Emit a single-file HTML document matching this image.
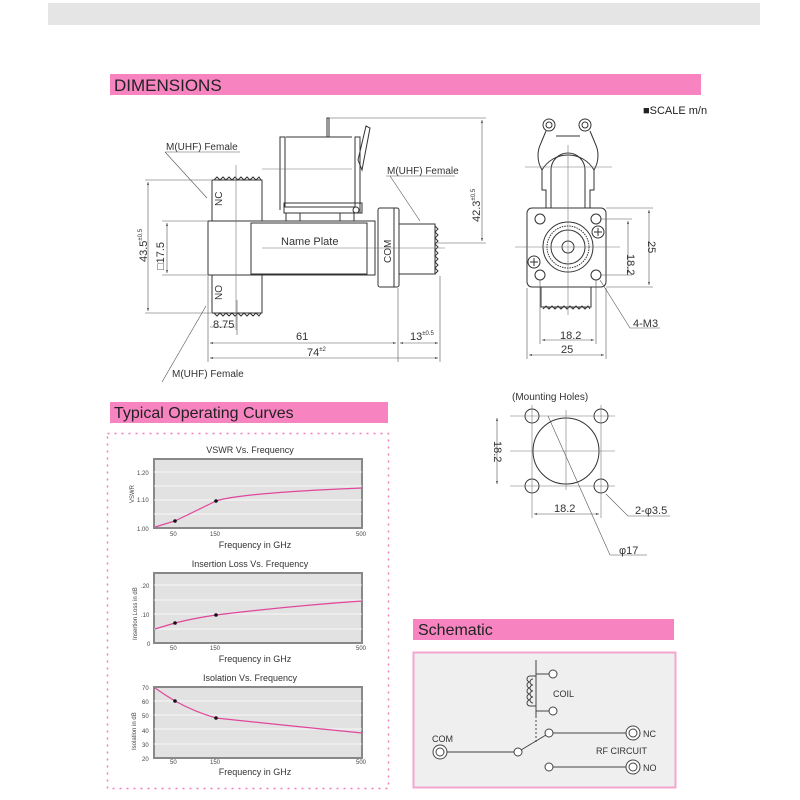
<!DOCTYPE html>
<html><head><meta charset="utf-8"><style>
html,body{margin:0;padding:0;background:#fff;}
svg{display:block;font-family:"Liberation Sans",sans-serif;}
</style></head><body>
<svg width="800" height="800" viewBox="0 0 800 800" xmlns="http://www.w3.org/2000/svg">
<defs>
<marker id="a" viewBox="0 0 10 10" refX="10" refY="5" markerWidth="5" markerHeight="5" orient="auto-start-reverse"><path d="M0,2 L10,5 L0,8z" fill="#333"/></marker>
</defs>
<rect x="48" y="3" width="712" height="22" fill="#e5e5e5"/>
<rect x="110" y="74" width="591" height="21" fill="#f784c0"/>
<text x="114" y="91" font-size="17" fill="#222">DIMENSIONS</text>
<rect x="110" y="402" width="278" height="21" fill="#f784c0"/>
<text x="114" y="418" font-size="16" fill="#222">Typical Operating Curves</text>
<rect x="413" y="619" width="261" height="21" fill="#f784c0"/>
<text x="418" y="635" font-size="16" fill="#222">Schematic</text>
<text x="643" y="114" font-size="11" fill="#222">■SCALE m/n</text>

<g stroke="#333" fill="none" stroke-width="1">
<rect x="208" y="221" width="167" height="54" fill="#fff"/>
<rect x="251" y="223" width="116" height="51"/>
<rect x="212" y="180" width="50" height="41"/>
<rect x="212" y="275" width="50" height="38"/>
<path d="M214,180 l3,-3 l3,3 l3,-3 l3,3 l3,-3 l3,3 l3,-3 l3,3 l3,-3 l3,3 l3,-3 l3,3 l3,-3 l3,3 l3,-3 l2,3"/>
<path d="M214,313 l3,3 l3,-3 l3,3 l3,-3 l3,3 l3,-3 l3,3 l3,-3 l3,3 l3,-3 l3,3 l3,-3 l3,3 l3,-3 l3,3 l2,-3"/>
<rect x="378" y="208" width="21" height="79" rx="2" fill="#fff"/>
<line x1="394" y1="208" x2="394" y2="287"/>
<rect x="399" y="224" width="36" height="50"/>
<path d="M435,226 l3,3 l-3,3 l3,3 l-3,3 l3,3 l-3,3 l3,3 l-3,3 l3,3 l-3,3 l3,3 l-3,3 l3,3 l-3,3 l3,3 l-3,3"/>
<path d="M280,210 V137 h5 v70 h70 v-70 h5 v76"/>
<path d="M286,137 h66 M358,160 l8,-34 l4,2 l-8,42 z"/>
<rect x="284" y="203" width="78" height="10"/>
<rect x="286" y="213" width="14" height="8"/>
<rect x="340" y="213" width="14" height="8"/>
<circle cx="356" cy="210" r="3"/>
<path d="M327,137 V118 h2 v19"/>
<g stroke="#777" stroke-width="0.6">
<line x1="236" y1="165" x2="236" y2="330"/>
<line x1="262" y1="248" x2="445" y2="248"/>
<line x1="262" y1="169" x2="352" y2="169"/>
</g>
<g stroke="#555" stroke-width="0.6">
<path d="M145,180 h66 M145,313 h66 M162,221 h45 M162,275 h45"/>
<line x1="148" y1="182" x2="148" y2="311" marker-start="url(#a)" marker-end="url(#a)"/>
<line x1="167" y1="223" x2="167" y2="273" marker-start="url(#a)" marker-end="url(#a)"/>
<path d="M329,118 H486 M437,243 H486"/>
<line x1="482" y1="120" x2="482" y2="241" marker-start="url(#a)" marker-end="url(#a)"/>
<path d="M208,276 V362 M237,300 V335 M398,288 V362 M440,276 V362"/>
<line x1="210" y1="327" x2="235" y2="327"/>
<line x1="210" y1="343" x2="396" y2="343" marker-start="url(#a)" marker-end="url(#a)"/>
<line x1="400" y1="343" x2="438" y2="343" marker-start="url(#a)" marker-end="url(#a)"/>
<line x1="210" y1="358" x2="438" y2="358" marker-start="url(#a)" marker-end="url(#a)"/>
<path d="M165,152 H240 M165,152 L207,198"/>
<path d="M386,176 H455 M390,176 L420,221"/>
<path d="M162,382 L206,306"/>
</g>
</g>
<g font-size="10" fill="#333">
<text x="166" y="150">M(UHF) Female</text>
<text x="387" y="174">M(UHF) Female</text>
<text x="172" y="377">M(UHF) Female</text>
<text x="281" y="245" font-size="11">Name  Plate</text>
<text transform="translate(222,206) rotate(-90)" font-size="10">NC</text>
<text transform="translate(222,300) rotate(-90)" font-size="10">NO</text>
<text transform="translate(391,263) rotate(-90)" font-size="10">COM</text>
<text transform="translate(147,262) rotate(-90)" font-size="11">43.5<tspan font-size="6" dy="-5">±0.5</tspan></text>
<text transform="translate(164,270) rotate(-90)" font-size="11">□17.5</text>
<text transform="translate(480,222) rotate(-90)" font-size="11">42.3<tspan font-size="6" dy="-5">±0.5</tspan></text>
<text x="213" y="328" font-size="11">8.75</text>
<text x="296" y="340" font-size="11">61</text>
<text x="410" y="340" font-size="11">13<tspan font-size="6" dy="-5">±0.5</tspan></text>
<text x="307" y="356" font-size="11">74<tspan font-size="6" dy="-5">±2</tspan></text>
</g>

<g stroke="#333" fill="none" stroke-width="1">
<path d="M546,208 V190 h-4 v-20 a30,30 0 0 1 52,0 v20 h-4 v18"/>
<path d="M551,208 V170 a17,17 0 0 1 34,0 V208"/>
<path d="M542,170 a28,28 0 0 1 -1,-27 l5,-12 M594,170 a28,28 0 0 0 1,-27 l-5,-12 M556,136 h24"/>
<circle cx="549" cy="125" r="6"/><circle cx="549" cy="125" r="3"/>
<circle cx="585" cy="125" r="6"/><circle cx="585" cy="125" r="3"/>
<rect x="527" y="208" width="79" height="79" rx="5" fill="#fff"/>
<circle cx="540" cy="219" r="5"/><circle cx="596" cy="219" r="5"/>
<circle cx="540" cy="275" r="5"/><circle cx="596" cy="275" r="5"/>
<circle cx="568" cy="247" r="25"/><circle cx="568" cy="247" r="21" stroke-dasharray="1.5 1"/>
<circle cx="568" cy="247" r="17"/><circle cx="568" cy="247" r="6"/>
<circle cx="598" cy="232" r="6"/><path d="M594,232 h8 M598,228 v8"/>
<circle cx="534" cy="262" r="6"/><path d="M530,262 h8 M534,258 v8"/>
<path d="M541,287 V307 h50 V287"/>
<path d="M543,309 l3,-3 l3,3 l3,-3 l3,3 l3,-3 l3,3 l3,-3 l3,3 l3,-3 l3,3 l3,-3 l3,3 l3,-3 l3,3 l3,-3 l2,3"/>
<g stroke="#777" stroke-width="0.6">
<line x1="568" y1="145" x2="568" y2="315"/><line x1="515" y1="247" x2="620" y2="247"/>
<line x1="525" y1="167" x2="612" y2="167"/>
</g>
<g stroke="#555" stroke-width="0.6">
<path d="M600,219 H632 M600,275 H632 M606,208 H653 M606,287 H653"/>
<line x1="628" y1="221" x2="628" y2="273" marker-start="url(#a)" marker-end="url(#a)"/>
<line x1="649" y1="210" x2="649" y2="285" marker-start="url(#a)" marker-end="url(#a)"/>
<path d="M540,280 V344 M596,280 V344 M527,288 V359 M606,288 V359"/>
<line x1="542" y1="340" x2="594" y2="340" marker-start="url(#a)" marker-end="url(#a)"/>
<line x1="529" y1="355" x2="604" y2="355" marker-start="url(#a)" marker-end="url(#a)"/>
<path d="M600,280 L630,328 H660"/>
</g>
</g>
<g font-size="11" fill="#333">
<text transform="translate(627,254) rotate(90)">18.2</text>
<text transform="translate(648,241) rotate(90)">25</text>
<text x="560" y="339">18.2</text>
<text x="561" y="353">25</text>
<text x="633" y="327">4-M3</text>
</g>

<g stroke="#333" fill="none" stroke-width="1">
<circle cx="532" cy="416" r="7"/><circle cx="601" cy="416" r="7"/>
<circle cx="532" cy="486" r="7"/><circle cx="601" cy="486" r="7"/>
<circle cx="566" cy="451" r="33"/>
<g stroke="#777" stroke-width="0.6">
<path d="M510,416 H615 M510,486 H615 M532,405 V518 M601,405 V518 M566,410 V490 M510,451 H615"/>
</g>
<g stroke="#555" stroke-width="0.6">
<line x1="497" y1="418" x2="497" y2="484" marker-start="url(#a)" marker-end="url(#a)"/>
<line x1="534" y1="514" x2="599" y2="514" marker-start="url(#a)" marker-end="url(#a)"/>
<path d="M548,416 L610,555 H647 M606,494 L628,516 H670"/>
</g>
</g>
<g font-size="10" fill="#333">
<text x="512" y="400">(Mounting  Holes)</text>
<text transform="translate(494,441) rotate(90)" font-size="11">18.2</text>
<text x="554" y="512" font-size="11">18.2</text>
<text x="635" y="514" font-size="11">2-φ3.5</text>
<text x="619" y="554" font-size="11">φ17</text>
</g>

<rect x="107.5" y="433.5" width="281" height="355" fill="none" stroke="#f07cb8" stroke-width="1.5" stroke-dasharray="2 5"/>
<g font-size="9" fill="#333" text-anchor="middle">
<text x="250" y="453">VSWR Vs. Frequency</text>
<text x="255" y="548">Frequency in GHz</text>
<text x="250" y="567">Insertion Loss Vs. Frequency</text>
<text x="255" y="662">Frequency in GHz</text>
<text x="250" y="681">Isolation Vs. Frequency</text>
<text x="255" y="775">Frequency in GHz</text>
</g>
<g fill="#e2e2e2" stroke="#888" stroke-width="2">
<rect x="154" y="459" width="208" height="69"/>
<rect x="154" y="573" width="208" height="70"/>
<rect x="154" y="687" width="208" height="71"/>
</g>
<g stroke="#fff" stroke-width="0.7">
<path d="M154,472H362M154,486H362M154,500H362M154,514H362 M154,585H362M154,600H362M154,614H362M154,629H362 M154,701H362M154,715H362M154,729H362M154,744H362"/>
</g>
<g stroke="#e0469a" stroke-width="1.2" fill="none">
<path d="M155,527 L175,521 L216,501 Q240,493 362,488"/>
<path d="M155,629 Q165,626 175,623 Q195,618 216,615 Q290,606 362,601"/>
<path d="M155,688 Q165,695 175,701 Q195,712 216,718 Q300,727 362,733"/>
</g>
<g fill="#111">
<circle cx="175" cy="521" r="1.8"/><circle cx="216" cy="501" r="1.8"/>
<circle cx="175" cy="623" r="1.8"/><circle cx="216" cy="615" r="1.8"/>
<circle cx="175" cy="701" r="1.8"/><circle cx="216" cy="718" r="1.8"/>
</g>
<g font-size="6" fill="#444">
<text x="137" y="475">1.20</text><text x="137" y="502">1.10</text><text x="137" y="531">1.00</text>
<text x="170" y="536">50</text><text x="210" y="536">150</text><text x="356" y="536">500</text>
<text x="141" y="588">.20</text><text x="141" y="617">.10</text><text x="147" y="646">0</text>
<text x="170" y="650">50</text><text x="210" y="650">150</text><text x="356" y="650">500</text>
<text x="142" y="690">70</text><text x="142" y="704">60</text><text x="142" y="718">50</text><text x="142" y="733">40</text><text x="142" y="747">30</text><text x="142" y="761">20</text>
<text x="170" y="764">50</text><text x="210" y="764">150</text><text x="356" y="764">500</text>
<text transform="translate(134,503) rotate(-90)">VSWR</text>
<text transform="translate(137,640) rotate(-90)">Insertion Loss in dB</text>
<text transform="translate(136,750) rotate(-90)">Isolation in dB</text>
</g>

<rect x="413.5" y="652.5" width="262" height="135" fill="#efefef" stroke="#f4a6cf" stroke-width="2"/>
<g stroke="#444" fill="none" stroke-width="1">
<line x1="536" y1="660" x2="536" y2="716"/>
<line x1="536" y1="716" x2="536" y2="742" stroke-dasharray="2 2"/>
<path d="M536,674 H549 M536,711 H549"/>
<path d="M536,676 h-6 a3,3 0 0 0 0,6 a3,3 0 0 0 0,6 a3,3 0 0 0 0,6 a3,3 0 0 0 0,6 a3,3 0 0 0 0,6 h6"/>
<path d="M533,679 a3,3 0 0 0 0,6 M533,685 a3,3 0 0 0 0,6 M533,691 a3,3 0 0 0 0,6 M533,697 a3,3 0 0 0 0,6"/>
<circle cx="553" cy="674" r="4" fill="#fff"/><circle cx="553" cy="711" r="4" fill="#fff"/>
<circle cx="440" cy="752" r="7" fill="#fff"/><circle cx="440" cy="752" r="4"/>
<line x1="447" y1="752" x2="514" y2="752"/>
<circle cx="518" cy="752" r="4" fill="#fff"/>
<line x1="521" y1="750" x2="546" y2="735"/>
<circle cx="549" cy="733" r="4" fill="#fff"/>
<line x1="553" y1="733" x2="626" y2="733"/>
<circle cx="633" cy="733" r="7" fill="#fff"/><circle cx="633" cy="733" r="4"/>
<circle cx="549" cy="767" r="4" fill="#fff"/>
<line x1="553" y1="767" x2="626" y2="767"/>
<circle cx="633" cy="767" r="7" fill="#fff"/><circle cx="633" cy="767" r="4"/>
</g>
<g font-size="9" fill="#333">
<text x="553" y="697">COIL</text>
<text x="432" y="742">COM</text>
<text x="643" y="737">NC</text>
<text x="596" y="754">RF CIRCUIT</text>
<text x="643" y="771">NO</text>
</g>
</svg>
</body></html>
